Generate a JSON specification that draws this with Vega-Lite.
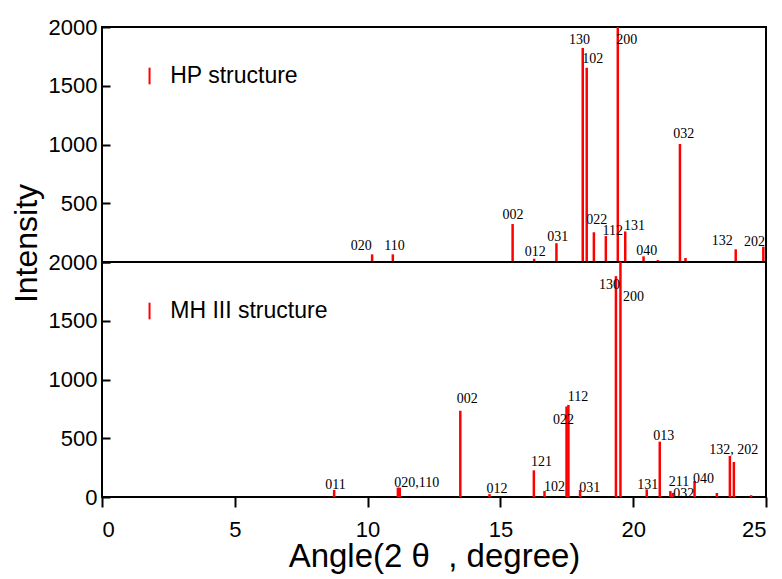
{
  "$schema": "https://vega.github.io/schema/vega-lite/v6.json",
  "background": "white",
  "padding": {"left": 9, "top": 15, "right": 10, "bottom": 0},
  "spacing": 0,
  "bounds": "flush",
  "config": {
    "font": "Liberation Sans",
    "view": {"stroke": "black", "strokeWidth": 2},
    "axis": {"grid": false, "domain": false, "tickColor": "black", "tickWidth": 2, "labelColor": "black", "titleColor": "black", "titleFontWeight": "normal"}
  },
  "datasets": {
    "hp": [
      {"angle": 10.17, "intensity": 65}, {"angle": 10.95, "intensity": 65}, {"angle": 15.46, "intensity": 323},
      {"angle": 16.27, "intensity": 28}, {"angle": 17.11, "intensity": 160}, {"angle": 18.1, "intensity": 1822},
      {"angle": 18.25, "intensity": 1653}, {"angle": 18.52, "intensity": 253}, {"angle": 18.97, "intensity": 221},
      {"angle": 19.42, "intensity": 2000}, {"angle": 19.7, "intensity": 260}, {"angle": 20.39, "intensity": 48},
      {"angle": 20.93, "intensity": 17}, {"angle": 21.76, "intensity": 1004}, {"angle": 21.97, "intensity": 34},
      {"angle": 23.86, "intensity": 108}, {"angle": 24.9, "intensity": 130}
    ],
    "hp_labels": [
      {"label": "020", "angle": 9.76, "intensity": 102}, {"label": "110", "angle": 11.01, "intensity": 102},
      {"label": "002", "angle": 15.47, "intensity": 366}, {"label": "012", "angle": 16.31, "intensity": 54},
      {"label": "031", "angle": 17.16, "intensity": 179}, {"label": "130", "angle": 17.98, "intensity": 1853},
      {"label": "102", "angle": 18.48, "intensity": 1696}, {"label": "022", "angle": 18.63, "intensity": 320},
      {"label": "112", "angle": 19.23, "intensity": 230}, {"label": "131", "angle": 20.05, "intensity": 272},
      {"label": "200", "angle": 19.76, "intensity": 1853}, {"label": "040", "angle": 20.51, "intensity": 60},
      {"label": "032", "angle": 21.9, "intensity": 1058}, {"label": "132", "angle": 23.35, "intensity": 145},
      {"label": "202", "angle": 24.57, "intensity": 139}
    ],
    "mh": [
      {"angle": 8.74, "intensity": 60}, {"angle": 11.14, "intensity": 80}, {"angle": 11.21, "intensity": 80},
      {"angle": 13.49, "intensity": 734}, {"angle": 14.59, "intensity": 25}, {"angle": 16.26, "intensity": 227},
      {"angle": 16.66, "intensity": 51}, {"angle": 17.49, "intensity": 770}, {"angle": 17.56, "intensity": 783},
      {"angle": 18.0, "intensity": 60}, {"angle": 19.35, "intensity": 1880}, {"angle": 19.52, "intensity": 2100},
      {"angle": 20.51, "intensity": 65}, {"angle": 21.0, "intensity": 471}, {"angle": 21.4, "intensity": 51},
      {"angle": 21.49, "intensity": 35}, {"angle": 22.31, "intensity": 136}, {"angle": 23.15, "intensity": 34},
      {"angle": 23.64, "intensity": 349}, {"angle": 23.79, "intensity": 298}, {"angle": 24.44, "intensity": 15}
    ],
    "mh_labels": [
      {"label": "011", "angle": 8.79, "intensity": 64}, {"label": "020,110", "angle": 11.85, "intensity": 88},
      {"label": "002", "angle": 13.75, "intensity": 797}, {"label": "012", "angle": 14.87, "intensity": 31},
      {"label": "121", "angle": 16.55, "intensity": 264}, {"label": "102", "angle": 17.04, "intensity": 51},
      {"label": "022", "angle": 17.38, "intensity": 621}, {"label": "112", "angle": 17.92, "intensity": 817},
      {"label": "031", "angle": 18.36, "intensity": 45}, {"label": "130", "angle": 19.11, "intensity": 1768},
      {"label": "200", "angle": 20.01, "intensity": 1668}, {"label": "131", "angle": 20.55, "intensity": 64},
      {"label": "013", "angle": 21.15, "intensity": 485}, {"label": "211", "angle": 21.72, "intensity": 94},
      {"label": "032", "angle": 21.9, "intensity": -8}, {"label": "040", "angle": 22.65, "intensity": 122},
      {"label": "132, 202", "angle": 23.79, "intensity": 362}
    ]
  },
  "vconcat": [
    {
      "width": 664, "height": 235,
      "layer": [
        {
          "data": {"name": "hp"},
          "mark": {"type": "rule", "color": "red", "strokeWidth": 2.5, "clip": true},
          "encoding": {
            "x": {"field": "angle", "type": "quantitative", "scale": {"domain": [0, 25], "nice": false}, "axis": null},
            "y": {"field": "intensity", "type": "quantitative", "scale": {"domain": [0, 2000], "nice": false},
              "axis": {"title": "Intensity", "titleFontSize": 32, "titleY": 216, "titleX": -66, "titleBaseline": "alphabetic", "titleAngle": 270,
                "values": [0, 250, 500, 750, 1000, 1250, 1500, 1750, 2000], "format": "d",
                "labelExpr": "datum.value % 500 == 0 && datum.value > 0 ? datum.label : ''",
                "labelFontSize": 22, "tickSize": -8, "labelPadding": 13}},
            "y2": {"datum": 0}
          }
        },
        {
          "data": {"name": "hp_labels"},
          "mark": {"type": "text", "font": "Liberation Serif", "fontSize": 14, "baseline": "alphabetic", "align": "center", "color": "black"},
          "encoding": {
            "x": {"field": "angle", "type": "quantitative"},
            "y": {"field": "intensity", "type": "quantitative"},
            "text": {"field": "label"}
          }
        },
        {
          "data": {"values": [{"structure": "HP structure"}]},
          "mark": {"type": "rule", "color": "red", "strokeWidth": 2},
          "encoding": {"x": {"datum": 1.79}, "y": {"datum": 1512}, "y2": {"datum": 1654}}
        },
        {
          "data": {"values": [{"structure": "HP structure"}]},
          "mark": {"type": "text", "fontSize": 23, "align": "left", "baseline": "middle", "color": "black"},
          "encoding": {"x": {"datum": 2.57}, "y": {"datum": 1587}, "text": {"field": "structure"}}
        }
      ]
    },
    {
      "width": 664, "height": 235,
      "layer": [
        {
          "data": {"name": "mh"},
          "mark": {"type": "rule", "color": "red", "strokeWidth": 2.5, "clip": true},
          "encoding": {
            "x": {"field": "angle", "type": "quantitative", "scale": {"domain": [0, 25], "nice": false},
              "axis": {"title": "Angle(2 θ\u00a0\u00a0, degree)", "titleFontSize": 33, "values": [0, 5, 10, 15, 20, 25],
                "labelFontSize": 22, "tickSize": 10, "labelPadding": 12, "titlePadding": 0}},
            "y": {"field": "intensity", "type": "quantitative", "scale": {"domain": [0, 2000], "nice": false},
              "axis": {"title": null, "values": [0, 250, 500, 750, 1000, 1250, 1500, 1750, 2000], "format": "d",
                "labelExpr": "datum.value % 500 == 0 ? datum.label : ''",
                "labelFontSize": 22, "tickSize": -8, "labelPadding": 13}},
            "y2": {"datum": 0}
          }
        },
        {
          "data": {"name": "mh_labels"},
          "mark": {"type": "text", "font": "Liberation Serif", "fontSize": 14, "baseline": "alphabetic", "align": "center", "color": "black"},
          "encoding": {
            "x": {"field": "angle", "type": "quantitative"},
            "y": {"field": "intensity", "type": "quantitative"},
            "text": {"field": "label"}
          }
        },
        {
          "data": {"values": [{"structure": "MH III structure"}]},
          "mark": {"type": "rule", "color": "red", "strokeWidth": 2},
          "encoding": {"x": {"datum": 1.79}, "y": {"datum": 1512}, "y2": {"datum": 1654}}
        },
        {
          "data": {"values": [{"structure": "MH III structure"}]},
          "mark": {"type": "text", "fontSize": 23, "align": "left", "baseline": "middle", "color": "black"},
          "encoding": {"x": {"datum": 2.57}, "y": {"datum": 1587}, "text": {"field": "structure"}}
        }
      ]
    }
  ]
}
